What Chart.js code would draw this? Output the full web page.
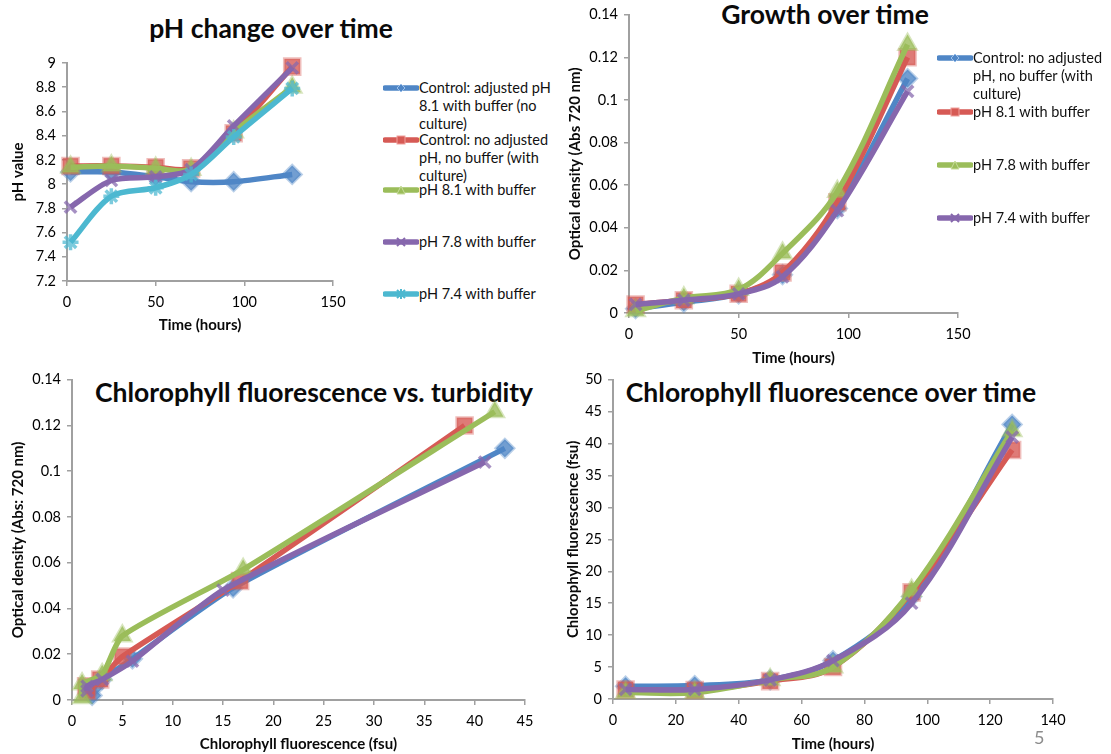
<!DOCTYPE html>
<html>
<head>
<meta charset="utf-8">
<script src="https://cdn.jsdelivr.net/npm/chart.js@4.4.1/dist/chart.umd.min.js"></script>
<style>
  html, body { margin: 0; padding: 0; background: #fff; }
  body { width: 1111px; height: 754px; position: relative; overflow: hidden; font-family: Lato, "Open Sans", sans-serif; color: #111; }
  canvas { position: absolute; }
  .title { position: absolute; font-weight: bold; font-size: 26.5px; white-space: nowrap; transform: translate(-50%, -50%); color: #0a0a0a; }
  .legend { position: absolute; font-size: 14.5px; line-height: 18px; color: #111; }
  .entry { position: absolute; left: 0; white-space: nowrap; }
  .entry svg { position: absolute; left: 0; }
  .entry .txt { position: absolute; left: 36px; top: 0; }
  .page { position: absolute; left: 1034px; top: 726px; font-size: 18px; color: #8c8c8c; }
</style>
</head>
<body>
<div class="title" style="left:271px; top:28px;">pH change over time</div>
<div class="title" style="left:825px; top:14px;">Growth over time</div>
<div class="title" style="left:314px; top:392px;">Chlorophyll fluorescence vs. turbidity</div>
<div class="title" style="left:831px; top:392px;">Chlorophyll fluorescence over time</div>

<canvas id="phChart" width="360" height="345" style="left:0; top:0;"></canvas>
<canvas id="growthChart" width="440" height="370" style="left:560px; top:0;"></canvas>
<canvas id="turbChart" width="545" height="389" style="left:0; top:365px;"></canvas>
<canvas id="fluorChart" width="551" height="389" style="left:560px; top:365px;"></canvas>

<div class="legend" id="phLegend" style="left:383px; top:0;"></div>
<div class="legend" id="growthLegend" style="left:937px; top:0;"></div>
<div class="page">5</div>

<script>
// ---- Sampling times (hours) ----
const phTimes = [2, 25, 50, 70, 94, 127];
const growthTimes = [3, 25, 50, 70, 95, 127];
const fluorTimes = [4, 26, 50, 70, 95, 127];

// ---- pH readings ----
const phNames = [
  ['Control: adjusted pH', '8.1 with buffer (no', 'culture)'],
  ['Control: no adjusted', 'pH, no buffer (with', 'culture)'],
  ['pH 8.1 with buffer'],
  ['pH 7.8 with buffer'],
  ['pH 7.4 with buffer']
];
const phControlBuffered = [8.10, 8.10, 8.06, 8.02, 8.02, 8.08];
const phControlUnbuffered = [8.15, 8.15, 8.14, 8.13, 8.42, 8.97];
const phBuffer81 = [8.14, 8.15, 8.13, 8.12, 8.43, 8.80];
const phBuffer78 = [7.81, 8.03, 8.06, 8.12, 8.48, 8.96];
const phBuffer74 = [7.52, 7.90, 7.97, 8.08, 8.39, 8.79];

// ---- Culture series (growth, fluorescence) ----
const cultureNames = [
  ['Control: no adjusted', 'pH, no buffer (with', 'culture)'],
  ['pH 8.1 with buffer'],
  ['pH 7.8 with buffer'],
  ['pH 7.4 with buffer']
];
// optical density, Abs 720 nm
const odControl = [0.002, 0.005, 0.009, 0.018, 0.049, 0.110];
const odBuffer81 = [0.004, 0.006, 0.009, 0.019, 0.052, 0.120];
const odBuffer78 = [0.001, 0.007, 0.011, 0.028, 0.057, 0.126];
const odBuffer74 = [0.004, 0.006, 0.009, 0.017, 0.048, 0.104];
// chlorophyll fluorescence, fsu
const fluorControl = [2.0, 2.1, 3.0, 6.0, 16.0, 43.0];
const fluorBuffer81 = [1.5, 1.4, 2.8, 5.0, 16.7, 39.0];
const fluorBuffer78 = [1.0, 1.0, 3.0, 5.0, 17.0, 42.0];
const fluorBuffer74 = [1.5, 1.5, 3.0, 6.0, 15.0, 41.0];

// ---- Axis tick labels ----
const phTicks = [7.2, 7.4, 7.6, 7.8, 8.0, 8.2, 8.4, 8.6, 8.8, 9.0];
const hourTicks150 = [0, 50, 100, 150];
const odTicks = [0, 0.02, 0.04, 0.06, 0.08, 0.10, 0.12, 0.14];
const fsuTicks45 = [0, 5, 10, 15, 20, 25, 30, 35, 40, 45];
const fsuTicks50 = [0, 5, 10, 15, 20, 25, 30, 35, 40, 45, 50];
const hourTicks140 = [0, 20, 40, 60, 80, 100, 120, 140];

// ---- Styling ----
const BLUE = '#4f86c6', RED = '#d65a55', GREEN = '#9bbd5a', PURPLE = '#8667ad', CYAN = '#4cb8d0';
const phStyles = [
  {color: BLUE, shape: 'rectRot'},
  {color: RED, shape: 'rect'},
  {color: GREEN, shape: 'triangle'},
  {color: PURPLE, shape: 'crossRot'},
  {color: CYAN, shape: 'star'}
];
const cultureStyles = [
  {color: BLUE, shape: 'rectRot'},
  {color: RED, shape: 'rect'},
  {color: GREEN, shape: 'triangle'},
  {color: PURPLE, shape: 'crossRot'}
];
const markerRadius = {rectRot: 9, rect: 11, triangle: 10, crossRot: 8, star: 8};

Chart.defaults.font.family = 'Lato, "Open Sans", sans-serif';
Chart.defaults.color = '#111';

function pairs(xs, ys) {
  return xs.map((x, i) => ({x: x, y: ys[i]}));
}

function makeDatasets(seriesList, styles, tension) {
  const n = seriesList.length;
  return seriesList.map((s, i) => {
    const st = styles[i];
    const cross = st.shape === 'crossRot' || st.shape === 'star';
    return {
      label: s.name.join(' '),
      data: s.points,
      borderColor: st.color,
      backgroundColor: st.color,
      borderWidth: 5.5,
      tension: tension,
      pointStyle: st.shape,
      pointRadius: markerRadius[st.shape],
      pointBackgroundColor: st.color + 'cc',
      pointBorderColor: cross ? st.color + 'bb' : st.color + '66',
      pointBorderWidth: cross ? 3.5 : 3,
      clip: false,
      order: n - i
    };
  });
}

function axis(opts) {
  return {
    type: 'linear',
    min: opts.ticks[0],
    max: opts.ticks[opts.ticks.length - 1],
    afterBuildTicks: a => { a.ticks = opts.ticks.map(v => ({value: v})); },
    afterFit: s => { if (s.isHorizontal()) s.height = opts.size; else s.width = opts.size; },
    border: {color: '#a0a0a0', width: 2},
    grid: {drawOnChartArea: false, drawTicks: true, tickLength: 5, color: '#a0a0a0', lineWidth: 1.5},
    ticks: {
      color: '#000',
      font: {size: 14.5},
      padding: opts.tickPad,
      autoSkip: false,
      maxRotation: 0,
      callback: v => String(+Number(v).toFixed(opts.decimals))
    },
    title: {
      display: true,
      text: opts.title,
      color: '#0a0a0a',
      font: {size: 15, weight: 'bold'},
      padding: opts.titlePad
    }
  };
}

function makeChart(id, datasets, pad, xAxis, yAxis) {
  return new Chart(document.getElementById(id), {
    type: 'line',
    data: {datasets: datasets},
    options: {
      responsive: false,
      animation: false,
      devicePixelRatio: 1,
      layout: {padding: pad},
      plugins: {legend: {display: false}, tooltip: {enabled: false}, title: {display: false}},
      scales: {x: xAxis, y: yAxis}
    }
  });
}

// pH change over time
makeChart('phChart',
  makeDatasets([
    {name: phNames[0], points: pairs(phTimes, phControlBuffered)},
    {name: phNames[1], points: pairs(phTimes, phControlUnbuffered)},
    {name: phNames[2], points: pairs(phTimes, phBuffer81)},
    {name: phNames[3], points: pairs(phTimes, phBuffer78)},
    {name: phNames[4], points: pairs(phTimes, phBuffer74)}
  ], phStyles, 0.3),
  {top: 63, right: 27, left: 0, bottom: 0},
  axis({ticks: hourTicks150, size: 64, tickPad: 8, decimals: 0, title: 'Time (hours)', titlePad: {bottom: 11}}),
  axis({ticks: phTicks, size: 67, tickPad: 6, decimals: 1, title: 'pH value', titlePad: {top: 9}})
);

// Growth over time
makeChart('growthChart',
  makeDatasets([
    {name: cultureNames[0], points: pairs(growthTimes, odControl)},
    {name: cultureNames[1], points: pairs(growthTimes, odBuffer81)},
    {name: cultureNames[2], points: pairs(growthTimes, odBuffer78)},
    {name: cultureNames[3], points: pairs(growthTimes, odBuffer74)}
  ], cultureStyles, 0.35),
  {top: 13, right: 42, left: 0, bottom: 0},
  axis({ticks: hourTicks150, size: 57, tickPad: 8, decimals: 0, title: 'Time (hours)', titlePad: {bottom: 3}}),
  axis({ticks: odTicks, size: 69, tickPad: 6, decimals: 2, title: 'Optical density (Abs 720 nm)', titlePad: {top: 6}})
);

// Chlorophyll fluorescence vs. turbidity
makeChart('turbChart',
  makeDatasets([
    {name: cultureNames[0], points: pairs(fluorControl, odControl)},
    {name: cultureNames[1], points: pairs(fluorBuffer81, odBuffer81)},
    {name: cultureNames[2], points: pairs(fluorBuffer78, odBuffer78)},
    {name: cultureNames[3], points: pairs(fluorBuffer74, odBuffer74)}
  ], cultureStyles, 0.2),
  {top: 14, right: 20, left: 0, bottom: 0},
  axis({ticks: fsuTicks45, size: 54, tickPad: 8, decimals: 0, title: 'Chlorophyll fluorescence (fsu)', titlePad: {bottom: 1}}),
  axis({ticks: odTicks, size: 72, tickPad: 6, decimals: 2, title: 'Optical density (Abs: 720 nm)', titlePad: {top: 9}})
);

// Chlorophyll fluorescence over time
makeChart('fluorChart',
  makeDatasets([
    {name: cultureNames[0], points: pairs(fluorTimes, fluorControl)},
    {name: cultureNames[1], points: pairs(fluorTimes, fluorBuffer81)},
    {name: cultureNames[2], points: pairs(fluorTimes, fluorBuffer78)},
    {name: cultureNames[3], points: pairs(fluorTimes, fluorBuffer74)}
  ], cultureStyles, 0.35),
  {top: 14, right: 58, left: 0, bottom: 0},
  axis({ticks: hourTicks140, size: 55, tickPad: 8, decimals: 0, title: 'Time (hours)', titlePad: {bottom: 1}}),
  axis({ticks: fsuTicks50, size: 53, tickPad: 6, decimals: 0, title: 'Chlorophyll fluorescence (fsu)', titlePad: {top: 4}})
);

// ---- Legends ----
function markerSvg(style) {
  const c = style.color;
  let m = '';
  if (style.shape === 'rectRot') m = `<polygon points="18,1 22,5 18,9 14,5" fill="${c}" stroke="#9cc0ea" stroke-width="1"/>`;
  else if (style.shape === 'rect') m = `<rect x="14" y="1" width="8" height="8" fill="${c}" stroke="#f0a09c" stroke-width="1"/>`;
  else if (style.shape === 'triangle') m = `<polygon points="18,1 22,9 14,9" fill="${c}" stroke="#c8dd9c" stroke-width="1"/>`;
  else if (style.shape === 'crossRot') m = `<path d="M14,1 L22,9 M22,1 L14,9" stroke="${c}" stroke-width="2"/>`;
  else m = `<path d="M14,1 L22,9 M22,1 L14,9 M18,0 L18,10" stroke="${c}" stroke-width="2"/>`;
  return `<svg width="36" height="10" viewBox="0 0 36 10" style="top:4px"><line x1="2" y1="5" x2="34" y2="5" stroke="${c}" stroke-width="5.5" stroke-linecap="round"/>${m}</svg>`;
}

function buildLegend(id, names, styles, rows) {
  const box = document.getElementById(id);
  names.forEach((lines, i) => {
    const e = document.createElement('div');
    e.className = 'entry';
    e.style.top = (rows[i] - 9) + 'px';
    e.innerHTML = markerSvg(styles[i]) + `<div class="txt">${lines.join('<br>')}</div>`;
    box.appendChild(e);
  });
}

buildLegend('phLegend', phNames, phStyles, [88, 140, 190, 242, 294]);
buildLegend('growthLegend', cultureNames, cultureStyles, [58, 112, 165, 218]);
</script>
</body>
</html>
